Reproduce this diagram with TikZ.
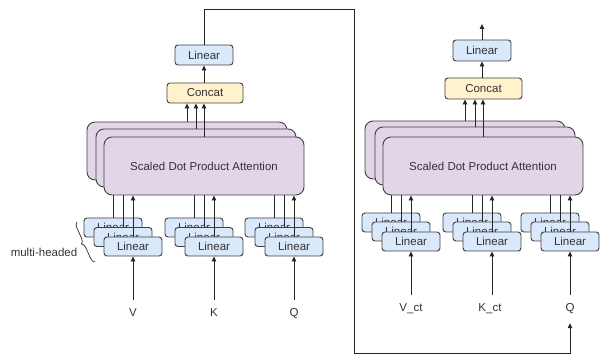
\documentclass[tikz,border=0pt]{standalone}
\usepackage{fontspec}
\setmainfont{Liberation Sans}
\usetikzlibrary{arrows.meta,decorations.pathreplacing}
\definecolor{txt}{HTML}{333333}
\definecolor{edge}{HTML}{404040}
\definecolor{linfill}{HTML}{DAE8FC}
\definecolor{catfill}{HTML}{FFF2CC}
\definecolor{attfill}{HTML}{E1D5E7}
\tikzset{
  lbox/.style={draw=edge, line width=0.9pt, fill=linfill, rounded corners=3pt,
    minimum width=58pt, minimum height=19pt, inner sep=0pt, text=txt},
  cbox/.style={draw=edge, line width=0.9pt, fill=catfill, rounded corners=3pt,
    minimum width=76pt, minimum height=20pt, inner sep=0pt, text=txt},
  abox/.style={draw=edge, line width=0.9pt, fill=attfill, rounded corners=8pt,
    minimum width=200pt, minimum height=58pt, inner sep=0pt, text=txt},
  lab/.style={inner sep=1pt, text height=8pt, text depth=0pt, text=txt},
  wire/.style={draw=black!85, line width=0.8pt},
  arr/.style={wire, -{Triangle[length=5pt,width=4.5pt]}},
}
\begin{document}
\begin{tikzpicture}[x=1pt,y=-1pt, font=\fontsize{11.5}{13}\selectfont]
\useasboundingbox (0,0) rectangle (603,358);

% ---------- Left module ----------
\node[abox] (attL1) at (187,151) {};
\node[abox] (attL2) at (196,158) {};
\node[abox] (attL3) at (204,166) {Scaled Dot Product Attention};
\node[cbox] (conL) at (205,93) {Concat};
\node[lbox, minimum height=20pt] (linL) at (204,55) {Linear};

% small linears
\foreach \n/\x in {V/133,K/214,Q/294}{
  \node[lbox] (l\n1) at (\x-20,227.5) {Linear};
  \node[lbox] (l\n2) at (\x-10,237) {Linear};
  \node[lbox] (l\n3) at (\x,246.5) {Linear};
}
\node[lab] (vL) at (133,313) {V};
\node[lab] (kL) at (214,313) {K};
\node[lab] (qL) at (294,313) {Q};
\node[text=txt] (mh) at (44,252) {multi-headed};
\coordinate (brA) at (95,262);
\coordinate (brB) at (77,222);
\draw[draw=edge, line width=0.8pt, decorate, decoration={brace, amplitude=5pt}] (brA) -- (brB);

% wires left
\foreach \n in {V,K,Q}{
  \draw[wire] (l\n1.north |- attL3.south) -- (l\n1.north);
  \draw[wire] (l\n2.north |- attL3.south) -- (l\n2.north);
  \draw[arr] (l\n3.north) -- (l\n3.north |- attL3.south);
}
\draw[arr, shorten <=8pt] (vL.north) -- (lV3.south);
\draw[arr, shorten <=8pt] (kL.north) -- (lK3.south);
\draw[arr, shorten <=8pt] (qL.north) -- (lQ3.south);
\draw[arr] (attL1.north) -- (attL1.north |- conL.south);
\draw[arr] (attL2.north) -- (attL2.north |- conL.south);
\draw[arr] (attL3.north) -- (attL3.north |- conL.south);
\draw[arr] (conL.north -| linL) -- (linL.south);

% ---------- Right module ----------
\node[abox] (attR1) at (465,150) {};
\node[abox] (attR2) at (475,156) {};
\node[abox] (attR3) at (483,166) {Scaled Dot Product Attention};
\node[cbox, minimum width=77pt, minimum height=21pt] (conR) at (483.5,88.5) {Concat};
\node[lbox, minimum height=21pt] (linR) at (482,50.5) {Linear};
\coordinate (outR) at (482,24);

\foreach \n/\x in {V/411,K/492,Q/570}{
  \node[lbox] (r\n1) at (\x-20,222.5) {Linear};
  \node[lbox] (r\n2) at (\x-10,231.5) {Linear};
  \node[lbox] (r\n3) at (\x,241.5) {Linear};
}
\node[lab] (vR) at (411,308) {V\_ct};
\node[lab] (kR) at (490,308) {K\_ct};
\node[lab] (qR) at (570,308) {Q};

\foreach \n in {V,K,Q}{
  \draw[wire] (r\n1.north |- attR3.south) -- (r\n1.north);
  \draw[wire] (r\n2.north |- attR3.south) -- (r\n2.north);
  \draw[arr] (r\n3.north) -- (r\n3.north |- attR3.south);
}
\draw[arr, shorten <=8pt] (vR.north -| rV3) -- (rV3.south);
\draw[arr, shorten <=8pt] (kR.north -| rK3) -- (rK3.south);
\draw[arr, shorten <=8pt] (qR.north -| rQ3) -- (rQ3.south);
\draw[arr] (attR1.north) -- (attR1.north |- conR.south);
\draw[arr] (attR2.north) -- (attR2.north |- conR.south);
\draw[arr] (attR3.north) -- (attR3.north |- conR.south);
\draw[arr] (conR.north -| linR) -- (linR.south);
\draw[arr] (linR.north) -- (outR);

% ---------- feedback connector ----------
\coordinate (fb1) at (354,9);
\coordinate (fb2) at (354,353);
\draw[arr, shorten >=10pt] (linL.north) -- (linL.north |- fb1) -- (fb1) -- (fb2) -- (fb2 -| qR) -- (qR.south);
\end{tikzpicture}
\end{document}
